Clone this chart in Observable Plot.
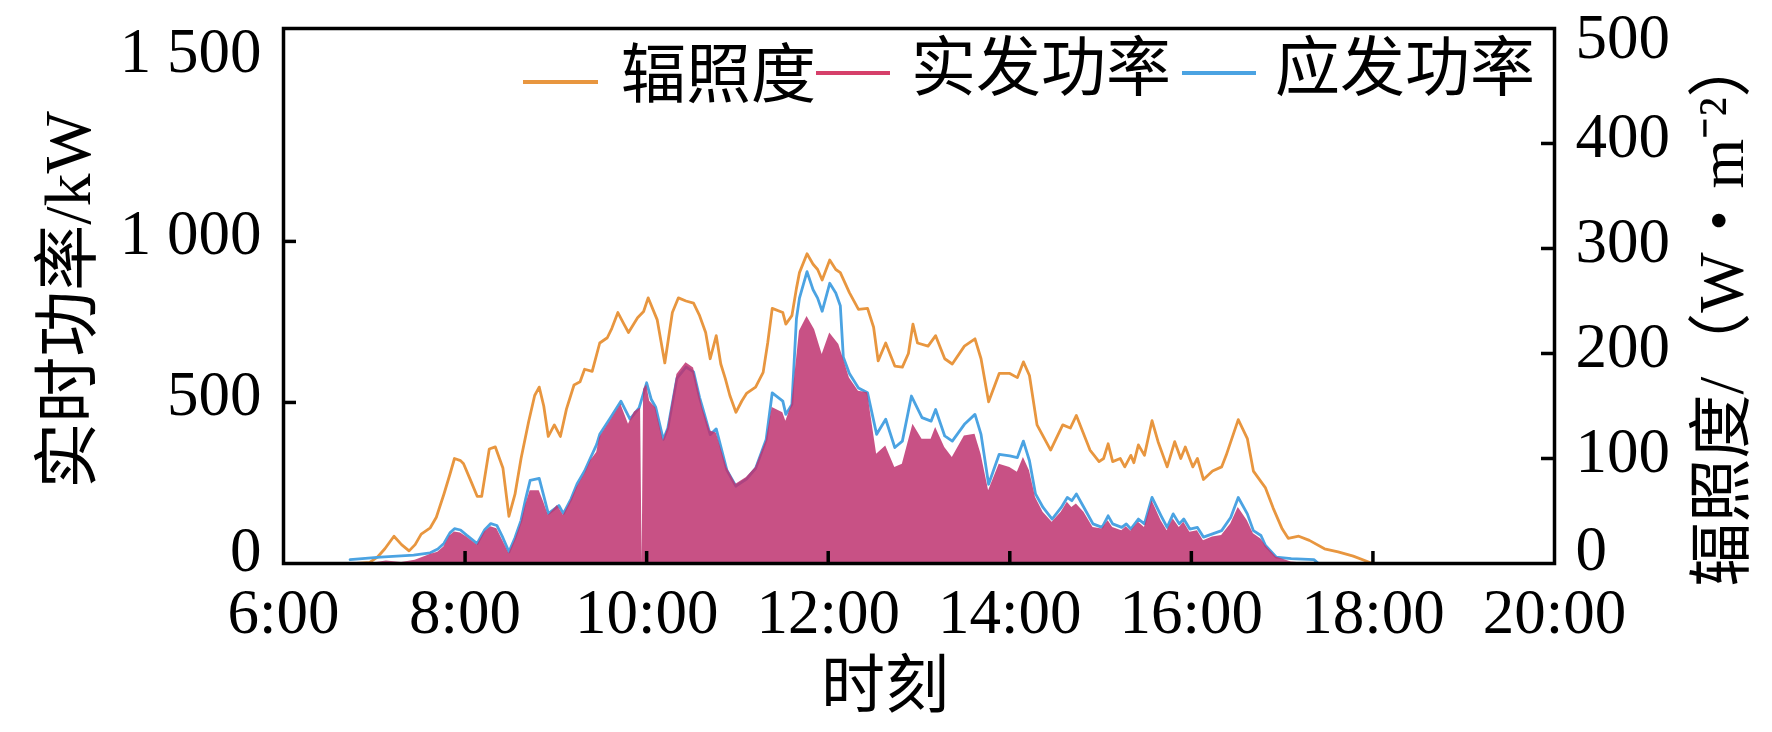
<!DOCTYPE html>
<html><head><meta charset="utf-8">
<script src="https://cdn.jsdelivr.net/npm/d3@7"></script>
<script src="https://cdn.jsdelivr.net/npm/@observablehq/plot@0.6"></script>
<style>
html,body{margin:0;padding:0;background:#fff;}
#wrap{position:relative;width:1772px;height:732px;overflow:hidden;}
.lg{position:absolute;font-family:'Noto Sans CJK SC',sans-serif;font-size:65px;line-height:1;white-space:nowrap;color:#000;}
.sw{position:absolute;height:4px;}
.ttl{position:absolute;line-height:1;white-space:nowrap;color:#000;font-family:'Liberation Serif','Noto Sans CJK SC',serif;transform:translate(-50%,-50%);}
.rot{transform:translate(-50%,-50%) rotate(-90deg);}
</style></head><body><div id="wrap"></div>
<script>
// ---- data ----
const xTicks = [6, 8, 10, 12, 14, 16, 18, 20];
const leftTicks = [500, 1000];
const leftZero = [0];
const leftTopTick = [1500];
const rightTicks = [100, 200, 300, 400];
const rightZero = [0];
const rightTopTick = [500];
const leftMax = 1661;   // kW at top of frame
const rightMax = 509.5; // W/m2 at top of frame

const irrTimes = [
"6:48","6:57","7:02","7:07","7:13","7:18","7:23","7:27","7:31","7:37",
"7:41","7:46","7:50","7:53","7:57","7:59","8:04","8:08","8:11","8:16",
"8:20","8:25","8:29","8:33","8:37","8:42","8:46","8:49","8:52","8:55",
"8:59","9:03","9:07","9:12","9:16","9:19","9:24","9:29","9:34","9:37",
"9:41","9:45","9:48","9:54","9:58","10:01","10:07","10:12","10:17","10:21",
"10:26","10:31","10:35","10:39","10:42","10:46","10:49","10:52","10:55","10:59",
"11:03","11:06","11:12","11:17","11:20","11:23","11:30","11:32","11:36","11:39",
"11:41","11:46","11:50","11:53","11:56","12:01","12:05","12:08","12:14","12:20",
"12:26","12:30","12:33","12:38","12:44","12:49","12:53","12:56","12:59","13:06",
"13:11","13:17","13:22","13:30","13:37","13:41","13:46","13:53","14:00","14:05",
"14:09","14:13","14:18","14:27","14:35","14:40","14:44","14:53","14:59","15:02",
"15:05","15:08","15:13","15:16","15:20","15:22","15:25","15:29","15:34","15:38",
"15:44","15:49","15:53","15:56","16:01","16:04","16:08","16:14","16:20","16:23",
"16:31","16:37","16:41","16:46","16:49","16:54","17:00","17:04","17:11","17:18",
"17:28","17:37","17:47","17:58","18:00"];
const irrValues = [
0,1,6,14,26,18,12,18,28,34,
44,66,85,100,98,95,78,64,64,109,
111,91,45,66,100,135,160,168,150,121,
132,121,147,170,173,185,183,210,215,224,
239,228,220,234,240,253,232,191,239,253,
250,248,236,220,195,217,190,176,160,144,
155,162,168,182,210,243,239,228,236,262,
277,295,285,280,270,289,280,277,258,242,
243,225,193,210,188,187,200,228,210,207,
217,195,190,207,214,195,154,181,181,177,
192,179,132,108,132,129,141,108,97,100,
114,97,100,92,103,96,113,103,136,116,
92,116,100,111,92,100,80,88,92,103,
137,119,88,78,72,53,33,24,26,22,
14,11,7,1,0];

const expTimes = [
"6:44","7:04","7:26","7:37","7:42","7:46","7:50","7:53","7:57","8:01",
"8:08","8:13","8:17","8:21","8:25","8:29","8:33","8:37","8:40","8:43",
"8:49","8:52","8:55","9:02","9:05","9:10","9:14","9:19","9:23","9:27",
"9:29","9:36","9:43","9:49","9:55","10:00","10:03","10:06","10:11","10:14",
"10:20","10:26","10:31","10:35","10:37","10:42","10:46","10:53","10:59","11:06",
"11:12","11:19","11:23","11:30","11:32","11:36","11:39","11:41","11:46","11:50",
"11:53","11:56","12:01","12:05","12:08","12:10","12:14","12:20","12:26","12:32",
"12:38","12:44","12:49","12:55","13:02","13:08","13:11","13:17","13:22","13:30",
"13:37","13:41","13:46","13:53","14:00","14:05","14:09","14:13","14:17","14:22",
"14:28","14:34","14:38","14:41","14:44","14:49","14:55","15:01","15:05","15:08",
"15:14","15:17","15:20","15:25","15:29","15:34","15:40","15:44","15:48","15:52",
"15:55","15:59","16:04","16:08","16:14","16:20","16:26","16:31","16:37","16:41",
"16:46","16:49","16:56","17:06","17:21","17:24"];
const expValues = [
12,20,26,33,45,62,95,108,104,88,
62,105,124,118,80,36,80,134,200,258,
264,210,155,180,155,200,247,287,329,370,
401,452,504,448,483,561,510,485,385,420,
575,610,595,515,483,400,418,290,240,262,
295,385,530,504,463,494,760,824,906,850,
824,783,870,840,800,640,590,545,530,401,
448,360,380,520,453,442,478,396,380,432,
463,401,246,339,334,329,380,319,216,174,
138,174,205,195,216,174,123,112,148,123,
112,123,107,138,123,205,148,112,154,123,
138,107,112,82,92,102,143,205,154,102,
87,56,20,15,12,0];

const actTimes = [
"6:57","7:08","7:18","7:27","7:37","7:42","7:46","7:50","7:53","7:57",
"8:01","8:08","8:13","8:17","8:21","8:25","8:29","8:33","8:37","8:40",
"8:43","8:49","8:52","8:55","9:01","9:05","9:10","9:14","9:19","9:23",
"9:27","9:29","9:36","9:43","9:48","9:52","9:56","9:57","9:58","10:00",
"10:02","10:06","10:11","10:14","10:20","10:26","10:31","10:35","10:37","10:42",
"10:46","10:53","10:59","11:06","11:12","11:19","11:23","11:30","11:32","11:36",
"11:41","11:46","11:51","11:56","12:01","12:07","12:14","12:20","12:26","12:32",
"12:38","12:44","12:49","12:56","13:02","13:08","13:11","13:17","13:22","13:30",
"13:37","13:41","13:46","13:53","14:00","14:05","14:09","14:13","14:17","14:22",
"14:28","14:34","14:38","14:41","14:44","14:49","14:55","15:01","15:05","15:08",
"15:14","15:17","15:20","15:25","15:29","15:34","15:40","15:44","15:48","15:52",
"15:55","15:59","16:04","16:08","16:14","16:20","16:26","16:31","16:37","16:41",
"16:46","16:49","16:56","17:06","17:18"];
const actValues = [
0,8,3,10,28,35,51,85,98,95,
82,57,98,114,108,70,30,72,124,180,
226,226,190,149,180,149,195,237,277,319,
345,391,442,494,432,470,483,0,540,555,
504,483,380,420,587,623,607,525,483,411,
405,298,246,267,298,380,484,468,442,494,
721,767,726,649,716,680,576,535,530,339,
365,298,308,432,386,386,422,360,329,396,
401,339,226,308,298,283,329,288,205,159,
128,159,190,174,185,159,112,107,133,112,
102,114,100,128,112,195,133,102,138,112,
128,97,102,71,82,87,123,174,133,92,
76,56,20,5,0];

const legendItems = ["辐照度", "实发功率", "应发功率"];
const yLabelLeft = "实时功率/kW";
const yLabelRight = "辐照度/（W・m⁻²）";
const xLabel = "时刻";

// ---- build ----
const k = leftMax / rightMax;
const toH = t => { const [h, m] = t.split(":"); return +h + (+m) / 60; };
const irr = irrTimes.map((t, i) => ({h: toH(t), v: irrValues[i] * k}));
const exp = expTimes.map((t, i) => ({h: toH(t), v: expValues[i]}));
const act = actTimes.map((t, i) => ({h: toH(t), v: actValues[i]}));

const W = 1772, H = 732, mL = 283, mR = 218, mT = 28, mB = 169;
const pw = W - mL - mR, ph = H - mT - mB;
const serif = "'Liberation Serif','Noto Sans CJK SC',serif";
const fmtLeft = d => d >= 1000 ? `${Math.floor(d / 1000)} ${String(d % 1000).padStart(3, "0")}` : `${d}`;
const fmtRight = d => `${Math.round(d / k)}`;
const C_IRR = "#E8963F", C_EXP = "#4BA3E2", C_ACT = "#BE3370", C_ACT_LINE = "#D6406A";
const leftAxis = (ticks, dy) => Plot.axisY(ticks, {anchor: "left", tickSize: 0, tickPadding: 22, tickFormat: fmtLeft, dy, label: null});
const rightAxis = (ticks, dy) => Plot.axisY(ticks.map(d => d * k), {anchor: "right", tickSize: 0, tickPadding: 21, tickFormat: fmtRight, dy, label: null});

const chart = Plot.plot({
  width: W, height: H,
  marginLeft: mL, marginRight: mR, marginTop: mT, marginBottom: mB,
  style: {fontFamily: serif, fontSize: "63px", color: "#000", background: "#fff"},
  x: {domain: [6, 20], axis: null},
  y: {domain: [0, leftMax], axis: null},
  marks: [
    Plot.lineY(irr, {x: "h", y: "v", stroke: C_IRR, strokeWidth: 2.8}),
    Plot.lineY(exp, {x: "h", y: "v", stroke: C_EXP, strokeWidth: 2.8}),
    Plot.areaY(act, {x: "h", y: "v", fill: C_ACT, fillOpacity: 0.85}),
    Plot.frame({stroke: "#000", strokeWidth: 3.5}),
    // inward ticks
    Plot.tickY(leftTicks, {y: d => d, stroke: "#000", strokeWidth: 3.5, insetRight: pw - 13}),
    Plot.tickY(rightTicks.map(d => d * k), {y: d => d, stroke: "#000", strokeWidth: 3.5, insetLeft: pw - 13}),
    Plot.tickX(xTicks.filter(d => d > 6 && d < 20), {x: d => d, stroke: "#000", strokeWidth: 3.5, insetTop: ph - 12}),
    // tick labels
    leftAxis(leftTicks, -8),
    leftAxis(leftZero, -13),
    leftAxis(leftTopTick, -29),
    rightAxis(rightTicks, -7),
    rightAxis(rightZero, -14),
    rightAxis(rightTopTick, -1),
    Plot.axisX(xTicks, {anchor: "bottom", tickSize: 0, tickPadding: 25, tickFormat: d => `${d}:00`, label: null})
  ]
});

const wrap = document.getElementById("wrap");
wrap.appendChild(chart);

// axis titles (HTML, rotated where needed)
function title(text, cx, cy, size, rotate) {
  const d = document.createElement("div");
  d.className = rotate ? "ttl rot" : "ttl";
  d.style.left = cx + "px";
  d.style.top = cy + "px";
  d.style.fontSize = size + "px";
  d.textContent = text;
  wrap.appendChild(d);
}
title(yLabelLeft, 68, 300, 66, true);
title(yLabelRight, 1722, 310, 64, true);
title(xLabel, 885, 686, 64, false);

// legend overlay (inside plot, top right)
const legend = [
  {label: legendItems[0], color: C_IRR, sx: 523, sw: 75, sy: 82, tx: 621, ty: 37},
  {label: legendItems[1], color: C_ACT_LINE, sx: 816, sw: 74, sy: 73, tx: 911, ty: 30},
  {label: legendItems[2], color: C_EXP, sx: 1182, sw: 74, sy: 73, tx: 1275, ty: 30}
];
for (const it of legend) {
  const s = document.createElement("div");
  s.className = "sw";
  s.style.cssText = `left:${it.sx}px;top:${it.sy - 2}px;width:${it.sw}px;background:${it.color};`;
  wrap.appendChild(s);
  const t = document.createElement("div");
  t.className = "lg";
  t.style.left = it.tx + "px";
  t.style.top = it.ty + "px";
  t.textContent = it.label;
  wrap.appendChild(t);
}
</script>
</body></html>
